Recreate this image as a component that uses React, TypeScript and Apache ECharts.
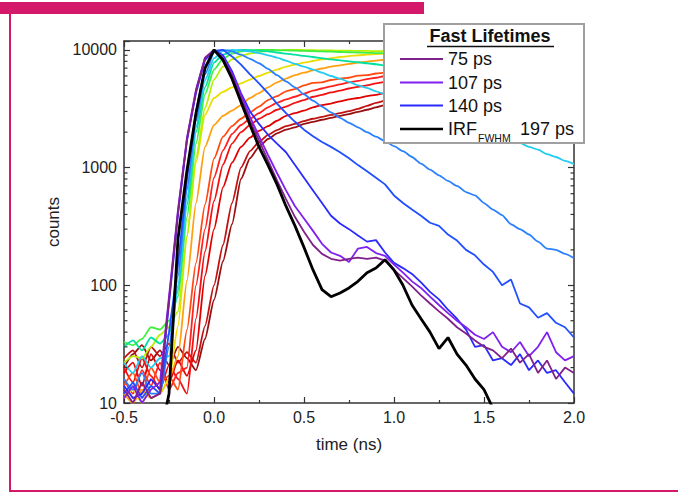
import React, { useEffect, useRef } from 'react';
import * as echarts from 'echarts';

const TIME = [-0.5,-0.45,-0.4,-0.35,-0.3,-0.25,-0.2,-0.15,-0.1,-0.05,0,0.05,0.1,0.15,0.2,0.25,0.3,0.35,0.4,0.45,0.5,0.55,0.6,0.65,0.7,0.75,0.8,0.85,0.9,0.95,1,1.05,1.1,1.15,1.2,1.25,1.3,1.35,1.4,1.45,1.5,1.55,1.6,1.65,1.7,1.75,1.8,1.85,1.9,1.95,2];

const DARKRED2 = [20,26,31,23,28, 21,30,24,19,35, 75,160,330,800,1200, 1500,1750,1950,2100,2200, 2350,2450,2550,2650,2750, 2850,2980,3100,3250,3400, 3550,3700,3850,4000,4150, 4300,4450,4600,4750,4900, 5000,5100,5200,5300,5400, 5500,5600,5700,5800,5900,6000];
const DARKRED1 = [24,28,20,30,25, 32,22,27,22,45, 100,220,500,1000,1380, 1650,1900,2080,2250,2350, 2480,2600,2700,2800,2900, 3020,3150,3350,3550,3700, 3850,4000,4150,4300,4450, 4600,4750,4900,5050,5200, 5300,5400,5500,5600,5700, 5800,5900,6000,6100,6200,6300];
const RED4 = [18,22,14,26,19, 15,23,17,28,120, 300,680,1100,1500,1800, 2050,2250,2500,2750,2900, 3050,3250,3400,3500,3650, 3800,3900,4050,4150,4300, 4450,4600,4750,4900,5050, 5200,5350,5500,5650,5800, 5900,6000,6100,6200,6300, 6400,6500,6600,6700,6800,6900];
const RED3 = [20,15,24,17,13, 21,16,12,52,193, 520,1060,1600,2000,2300, 2600,2850,3100,3300,3550, 3750,4000,4150,4350,4500, 4700,4850,5000,5200,5350, 5500,5650,5800,5950,6100, 6250,6400,6500,6600,6700, 6800,6900,7000,7100,7200, 7300,7400,7450,7500,7550,7600];
const RED2 = [16,12,19,14,22, 13,18,20,100,300, 820,1400,1930,2300,2600, 2900,3250,3550,3800,4000, 4250,4500,4700,4900,5100, 5300,5450,5650,5800,6000, 6150,6300,6450,6600,6750, 6900,7050,7200,7300,7400, 7500,7600,7700,7800,7900, 8000,8050,8100,8150,8200,8250];
const RED1 = [14,18,12,20,15, 17,13,42,155,485, 1190,1830,2250,2600,2950, 3300,3750,4050,4450,4650, 5000,5250,5300,5550,5700, 5800,6050,6100,6300,6400, 6550,6700,6850,7000,7150, 7300,7450,7600,7700,7800, 7900,8000,8100,8200,8300, 8400,8500,8600,8650,8700,8750];
const ORANGE = [12,10,13,11,12, 16,25,110,500,1500, 2300,2750,3050,3400,3900, 4300,4800,5300,5700,6100, 6400,6700,6950,7200,7400, 7600,7800,7950,8100,8250, 8400,8550,8700,8800,8900, 9000,9100,9200,9250,9300, 9350,9400,9450,9500,9500, 9550,9600,9600,9650,9650,9700];
const YELLOW = [11,13,10,14,12, 16,45,260,1100,2800, 3900,4400,4800,5200,5600, 6000,6400,6800,7200,7500, 7800,8050,8300,8500,8700, 8850,9000,9100,9200,9300, 9400,9450,9500,9550,9600, 9650,9700,9700,9750,9750, 9800,9800,9800,9850,9850, 9850,9900,9900,9900,9900,9900];
const YELLOWGREEN = [22,25,24,30,38, 44,60,260,1200,3200, 5600,7200,8300,8900,9300, 9600,9800,9900,10000,10000, 9950,9950,9900,9900,9850, 9850,9800,9800,9750,9750, 9700,9700,9650,9650,9600, 9600,9550,9550,9500,9500, 9450,9450,9400,9400,9350, 9350,9300,9300,9250,9250,9200];
const GREEN = [33,31,35,44,42, 50,80,380,1600,4200, 6800,8400,9300,9700,9900, 10000,10000,9950,9900,9850, 9800,9750,9700,9650,9600, 9550,9500,9450,9400,9350, 9300,9250,9200,9150,9100, 9050,9000,8950,8900,8850, 8800,8750,8700,8650,8600, 8550,8500,8450,8400,8350,8300];
const TEAL = [30,34,28,36,32, 38,90,480,2000,4800, 7800,9100,9700,10000,9950, 9850,9700,9500,9300,9100, 8900,8700,8500,8300,8150, 8000,7850,7700,7550,7400, 7250,7100,6950,6800,6650, 6500,6350,6200,6050,5900, 5750,5600,5450,5300,5150, 5000,4900,4800,4700,4600,4500];
const CYAN = [22,18,25,20,24, 25,100,550,2200,5500, 8500,9800,10000,9900,9700, 9400,9000,8600,8100,7600, 7200,6800,6400,6000,5700, 5350,5000,4750,4450,4200, 3950,3700,3450,3250,3050, 2850,2700,2550,2400,2250, 2100,1950,1850,1760,1620, 1500,1420,1300,1230,1140,1070];
const BLUE_A = [16,13,18,12,12, 30,120,650,2500,6200, 9500,10000,9700,9100,8400, 7700,6900,6100,5400,4800, 4200,3700,3300,2950,2650, 2400,2200,2000,1830,1680, 1520,1380,1230,1080,960, 860,770,700,620,580, 500,440,395,330,300, 270,235,205,200,185,170];
const BLUE_B = [12,15,11,14,12, 40,150,800,3000,7000, 9800,10000,8800,7500,6200, 5200,4300,3500,2900,2450, 2100,1850,1650,1500,1350, 1200,1050,930,820,720, 580,500,440,390,340, 320,270,240,200,180, 150,130,100,112,70, 65,53,58,48,44,36];
const BLUE_140 = [14,11,12,16,13, 70,400,1700,4300,8200, 10000,9000,6600,4300,3000, 2350,1900,1600,1350,1050, 820,640,500,390,335, 300,265,235,242,190, 155,140,125,106,88, 76,62,52,42,30, 31,23,24,21,26, 19,23,18,19,15,12];
const VIOLET_107 = [11,14,10,13,15, 80,440,1800,4600,8600, 10000,8600,6300,4200,2700, 1850,1280,900,640,470, 370,290,225,190,178, 158,205,212,188,178, 150,128,108,95,80, 68,58,50,44,38, 35,40,30,27,33, 25,30,40,27,23,25];
const PURPLE_75 = [13,10,15,11,12, 75,420,1750,4500,8500, 10000,8400,6000,3900,2500, 1700,1150,780,540,380, 285,220,185,168,162, 168,172,168,172,162, 135,115,98,82,70, 60,52,44,39,34, 30,28,24,29,22, 26,18,23,16,20,18];
const IRF = [5,5,5,5,5, 12,250,950,2900,7000, 10000,8200,5700,3600,2300, 1500,1050,720,470,320, 210,135,92,80,86, 95,108,128,140,165, 135,100,68,52,40, 29,36,26,21,16, 13,9,5,5,5, 5,5,5,5,5,5];

const Y_MAJOR = [10, 100, 1000, 10000];
const Y_MINOR = [20,30,40,50,60,70,80,90,200,300,400,500,600,700,800,900,2000,3000,4000,5000,6000,7000,8000,9000];

const LEGEND_ITEMS = [
  { label: '75 ps', color: '#80208a' },
  { label: '107 ps', color: '#8020f0' },
  { label: '140 ps', color: '#2a2aff' },
];

const SERIES = [
  { name: 'd2', color: '#9a1010', width: 1.8, smooth: 0.2, values: DARKRED2 },
  { name: 'd1', color: '#c01212', width: 1.8, smooth: 0.2, values: DARKRED1 },
  { name: 'r4', color: '#e00000', width: 1.8, smooth: 0.2, values: RED4 },
  { name: 'r3', color: '#f21010', width: 1.8, smooth: 0.2, values: RED3 },
  { name: 'r2', color: '#ff2020', width: 1.8, smooth: 0.2, values: RED2 },
  { name: 'r1', color: '#ff4a10', width: 1.8, smooth: 0.2, values: RED1 },
  { name: 'or', color: '#ffa010', width: 1.8, smooth: 0.2, values: ORANGE },
  { name: 'ye', color: '#ecdc00', width: 1.8, smooth: 0.2, values: YELLOW },
  { name: 'yg', color: '#b4f000', width: 1.8, smooth: 0.2, values: YELLOWGREEN },
  { name: 'gr', color: '#40f040', width: 1.8, smooth: 0.2, values: GREEN },
  { name: 'te', color: '#00e0a0', width: 1.8, smooth: 0.2, values: TEAL },
  { name: 'cy', color: '#22ccf0', width: 1.8, smooth: 0.2, values: CYAN },
  { name: 'ba', color: '#2a80ff', width: 1.8, smooth: 0.2, values: BLUE_A },
  { name: 'bb', color: '#1f4fff', width: 1.8, smooth: 0, values: BLUE_B },
  { name: '140 ps', color: '#2a2aff', width: 1.8, smooth: 0, values: BLUE_140 },
  { name: '107 ps', color: '#8020f0', width: 1.8, smooth: 0, values: VIOLET_107 },
  { name: '75 ps', color: '#80208a', width: 1.8, smooth: 0, values: PURPLE_75 },
  { name: 'IRF', color: '#000000', width: 2.8, smooth: 0, values: IRF },
];

const FONT = '"Liberation Sans", Arial, sans-serif';
const X_MIN = -0.5;
const X_MAX = 2.0;
const Y_MIN = 10;
const Y_MAX = 11900;

export default function App() {
  const ref = useRef<HTMLDivElement>(null);
  useEffect(() => {
    const chart = echarts.init(ref.current!, null, { renderer: 'svg' });
    const axisLine = { onZero: false, lineStyle: { color: '#333', width: 1.5 } };
    const tick = { inside: true, length: 6, lineStyle: { color: '#333', width: 1.2 } };
    const minor = { show: true, splitNumber: 2, length: 3, lineStyle: { color: '#333', width: 1.2 } };

    const lineSeries = SERIES.map((s) => ({
      type: 'line',
      name: s.name,
      data: TIME.map((t, i) => [t, s.values[i]]),
      showSymbol: false,
      symbol: 'none',
      clip: true,
      silent: true,
      smooth: s.smooth,
      smoothMonotone: 'x',
      lineStyle: { color: s.color, width: s.width },
      itemStyle: { color: s.color },
      z: 2,
    }));

    const minorTickSeries = {
      type: 'custom',
      silent: true,
      z: 3,
      data: Y_MINOR.map((v) => [X_MIN, v]),
      encode: { x: 0, y: 1 },
      renderItem: (params: any, api: any) => {
        const v = api.value(1);
        const pl = api.coord([X_MIN, v]);
        const pr = api.coord([X_MAX, v]);
        const st = { stroke: '#333', lineWidth: 1.2 };
        return {
          type: 'group',
          children: [
            { type: 'line', shape: { x1: pl[0], y1: pl[1], x2: pl[0] + 3.5, y2: pl[1] }, style: st },
            { type: 'line', shape: { x1: pr[0] - 3.5, y1: pr[1], x2: pr[0], y2: pr[1] }, style: st },
          ],
        };
      },
    };

    const legendGraphics: any[] = [
      { type: 'rect', z: 100, shape: { x: 384, y: 24, width: 200, height: 119 }, style: { fill: '#fff', stroke: '#a0a0a0', lineWidth: 2 } },
      { type: 'text', z: 101, x: 490, y: 36, style: { text: 'Fast Lifetimes', font: `bold 18px ${FONT}`, fill: '#111', textAlign: 'center', textVerticalAlign: 'middle' } },
      { type: 'line', z: 101, shape: { x1: 427, y1: 46.5, x2: 554, y2: 46.5 }, style: { stroke: '#111', lineWidth: 1.5 } },
    ];
    const rowsY = [59, 82.5, 105.5];
    LEGEND_ITEMS.forEach((it, i) => {
      legendGraphics.push({ type: 'line', z: 101, shape: { x1: 400, y1: rowsY[i], x2: 443, y2: rowsY[i] }, style: { stroke: it.color, lineWidth: 2 } });
      legendGraphics.push({ type: 'text', z: 101, x: 448, y: rowsY[i], style: { text: it.label, font: `18px ${FONT}`, fill: '#111', textVerticalAlign: 'middle' } });
    });
    legendGraphics.push({ type: 'line', z: 101, shape: { x1: 400, y1: 129, x2: 443, y2: 129 }, style: { stroke: '#000', lineWidth: 2.5 } });
    legendGraphics.push({ type: 'text', z: 101, x: 448, y: 128.5, style: { text: 'IRF', font: `18px ${FONT}`, fill: '#111', textVerticalAlign: 'middle' } });
    legendGraphics.push({ type: 'text', z: 101, x: 478, y: 138, style: { text: 'FWHM', font: `10.5px ${FONT}`, fill: '#111', textVerticalAlign: 'middle' } });
    legendGraphics.push({ type: 'text', z: 101, x: 520, y: 128.5, style: { text: '197 ps', font: `18px ${FONT}`, fill: '#111', textVerticalAlign: 'middle' } });

    const frame = [
      { type: 'rect', z: 100, shape: { x: 0, y: 2, width: 424, height: 12 }, style: { fill: '#d4196a' } },
      { type: 'rect', z: 100, shape: { x: 9, y: 14, width: 2, height: 478 }, style: { fill: '#d4196a' } },
      { type: 'rect', z: 100, shape: { x: 9, y: 490, width: 669, height: 2 }, style: { fill: '#d4196a' } },
    ];

    chart.setOption({
      animation: false,
      backgroundColor: '#ffffff',
      grid: { left: 124, right: 104, top: 41, bottom: 93, containLabel: false },
      xAxis: [
        {
          type: 'value', min: X_MIN, max: X_MAX, interval: 0.5, position: 'bottom',
          axisLine, axisTick: tick, minorTick: minor, splitLine: { show: false },
          axisLabel: { formatter: (v: number) => v.toFixed(1), fontSize: 16, color: '#222', margin: 6, fontFamily: FONT },
          name: 'time (ns)', nameLocation: 'middle', nameGap: 33,
          nameTextStyle: { fontSize: 17, color: '#222', fontFamily: FONT },
        },
        {
          type: 'value', min: X_MIN, max: X_MAX, interval: 0.5, position: 'top',
          axisLine, axisTick: tick, minorTick: minor, splitLine: { show: false },
          axisLabel: { show: false },
        },
      ],
      yAxis: [
        {
          type: 'log', logBase: 10, min: Y_MIN, max: Y_MAX, position: 'left',
          axisLine, axisTick: tick, splitLine: { show: false },
          axisLabel: {
            formatter: (v: number) => { const r = Math.round(v); return Y_MAJOR.includes(r) ? String(r) : ''; },
            fontSize: 16, color: '#222', margin: 7, fontFamily: FONT,
          },
          name: 'counts', nameLocation: 'middle', nameGap: 52,
          nameTextStyle: { fontSize: 17, color: '#222', fontFamily: FONT },
        },
        {
          type: 'log', logBase: 10, min: Y_MIN, max: Y_MAX, position: 'right',
          axisLine, axisTick: tick, splitLine: { show: false },
          axisLabel: { show: false },
        },
      ],
      series: [...lineSeries, minorTickSeries],
      graphic: [...frame, ...legendGraphics],
    });
    return () => chart.dispose();
  }, []);
  return <div ref={ref} style={{ position: 'fixed', left: 0, top: 0, width: 678, height: 496, background: '#fff' }} />;
}
